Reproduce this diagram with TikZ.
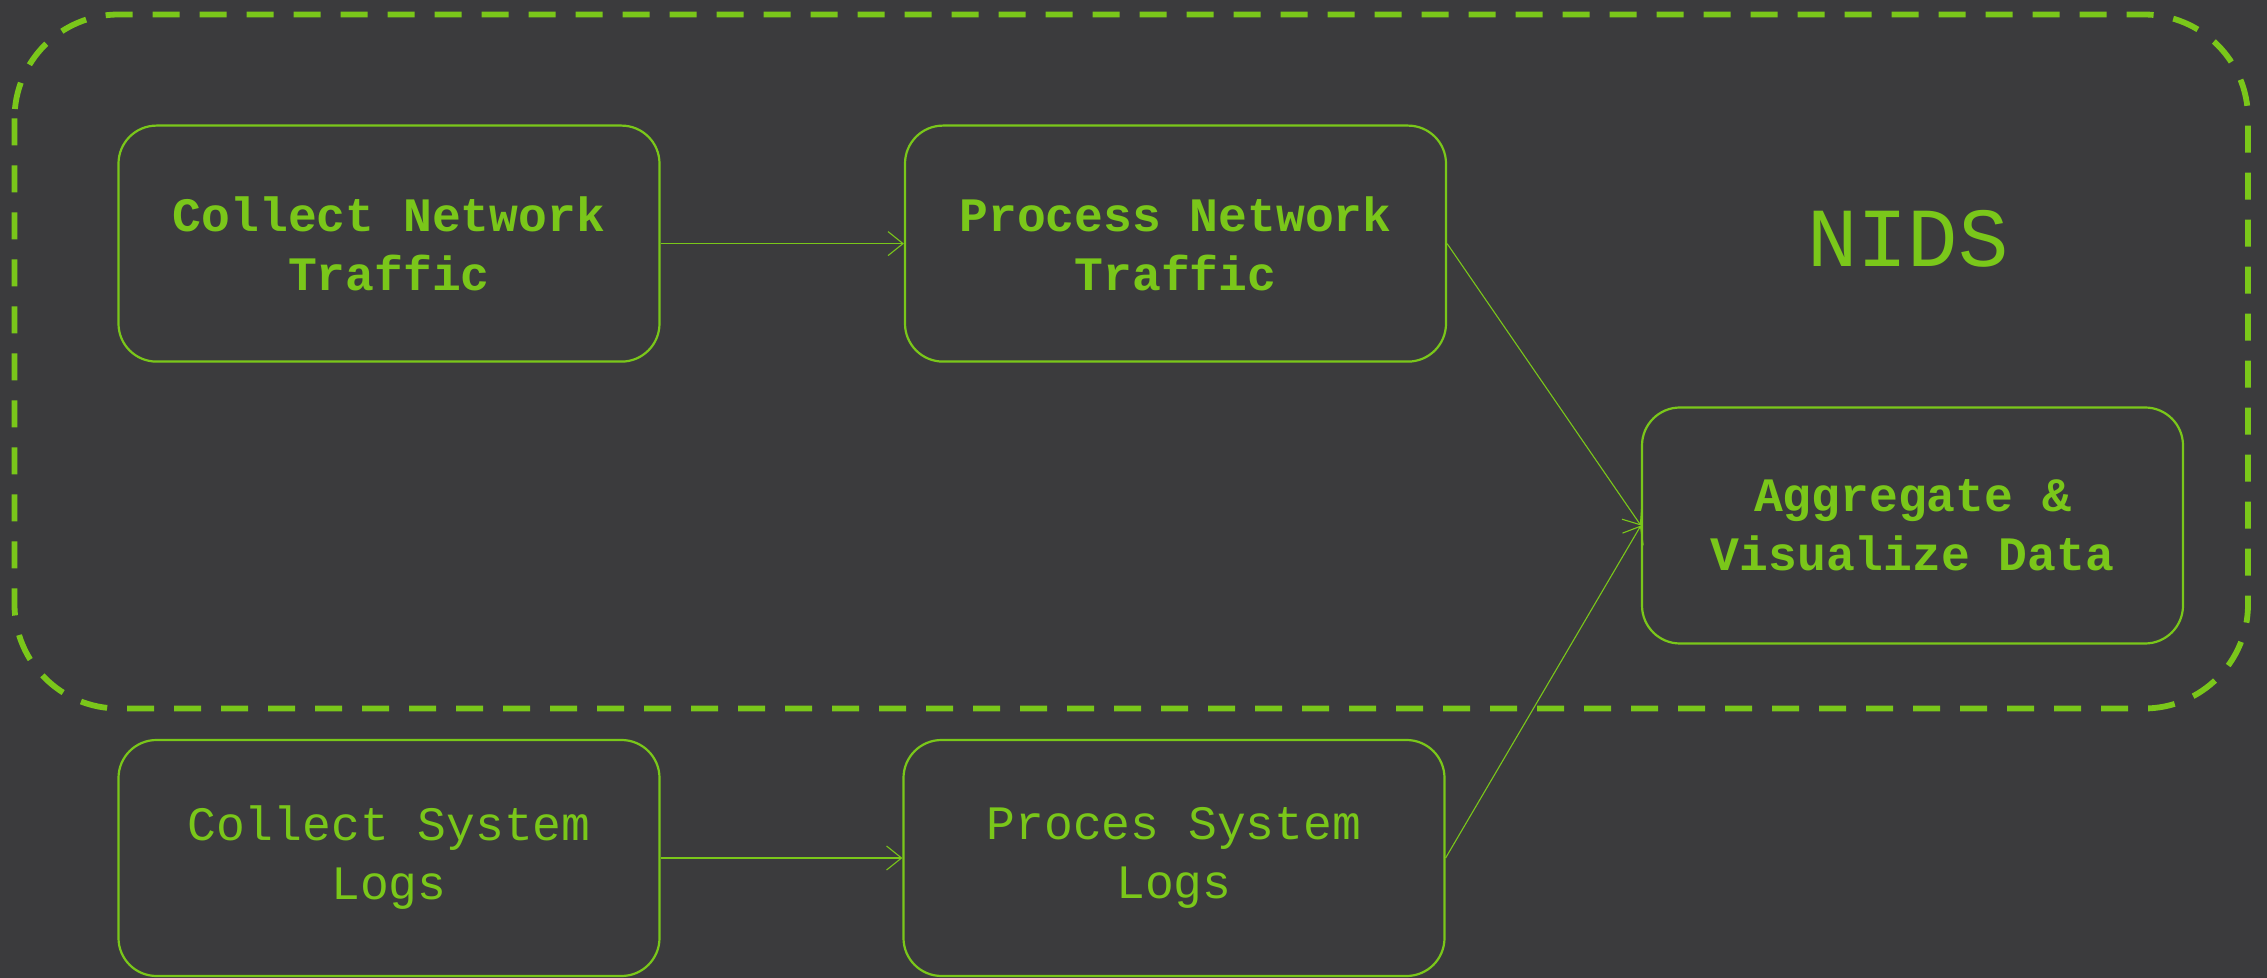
\documentclass[tikz,border=0pt]{standalone}
\usepackage{fontspec}
\setmonofont{Liberation Mono}
\usetikzlibrary{arrows.meta}
\definecolor{bg}{HTML}{3B3B3D}
\definecolor{grn}{HTML}{7AC71A}
\tikzset{
  procbox/.style={draw=grn, line width=1.1pt, rounded corners=19pt,
    minimum width=270.5pt, minimum height=118pt, inner sep=0pt,
    text=grn, align=center, font=\ttfamily\fontsize{24}{29.5}\selectfont},
  boldbox/.style={procbox, font=\ttfamily\bfseries\fontsize{24}{29.5}\selectfont},
  flow/.style={draw=grn, line width=0.55pt, -{Straight Barb[length=7.5pt,width=12pt,line width=0.55pt]}},
  groupbox/.style={draw=grn, line width=2.9pt, dash pattern=on 13.5pt off 10pt, rounded corners=52pt},
}
\begin{document}
\begin{tikzpicture}[x=0.5pt,y=-0.5pt]
\fill[bg] (0,0) rectangle (2267,978);
\useasboundingbox (0,0) rectangle (2267,978);
\draw[groupbox] (14.5,14.5) rectangle (2248,708.5);
\node[text=grn, font=\ttfamily\fontsize{42}{50}\selectfont] (nids) at (1908,238.6) {NIDS};
\node[boldbox] (b1) at (389,243.6) {Collect Network\\Traffic};
\node[boldbox] (b2) at (1175.5,243.6) {Process Network\\Traffic};
\node[boldbox] (b3) at (1912.5,525.5) {Aggregate \&\\Visualize Data};
\node[procbox] (b4) at (389,858) {Collect System\\Logs};
\node[procbox] (b5) at (1174,858) {Proces System\\Logs};
\draw[flow] (b1.east) -- (b2.west);
\draw[flow] (b2.east) -- (b3.west);
\draw[flow] (b4.east) -- (b5.west);
\draw[flow] (b5.east) -- (b3.west);
\end{tikzpicture}
\end{document}
